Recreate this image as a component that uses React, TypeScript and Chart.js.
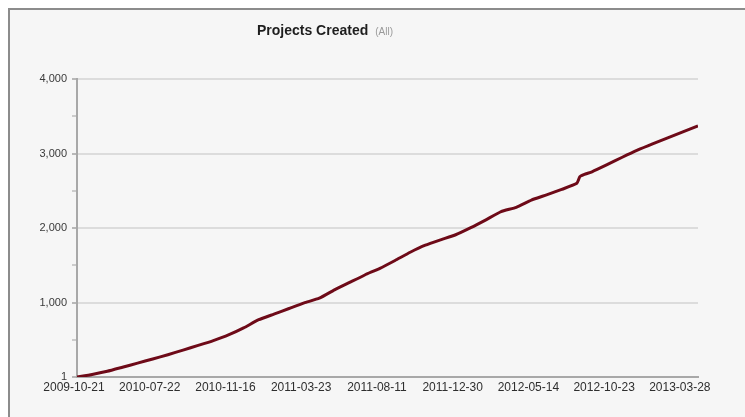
import React, { useEffect, useRef } from "react";
import { Chart, registerables } from "chart.js";

Chart.register(...registerables);

// Category positions (index along the date axis) and cumulative project counts
const pointIndex = [0, 2, 4, 6, 8, 10, 12, 14, 16, 18, 20, 22, 24, 26, 28, 30, 32, 34, 36, 38, 40, 42, 44, 46, 48, 50, 52, 54, 56, 58, 60, 62, 64, 66, 66.4, 67, 68, 70, 72, 74, 76, 78, 80, 82];
const projectsCreated = [1, 35, 78, 132, 187, 243, 300, 362, 425, 490, 565, 660, 770, 845, 920, 995, 1058, 1170, 1270, 1370, 1460, 1565, 1675, 1770, 1842, 1910, 2005, 2110, 2220, 2278, 2375, 2445, 2518, 2600, 2690, 2720, 2755, 2850, 2950, 3045, 3130, 3210, 3290, 3370];

// Date tick labels, one every 10 categories
const dateLabels = ["2009-10-21", "2010-07-22", "2010-11-16", "2011-03-23", "2011-08-11", "2011-12-30", "2012-05-14", "2012-10-23", "2013-03-28"];
const yTicks = [1, 500, 1000, 1500, 2000, 2500, 3000, 3500, 4000];
const yMajor = [1, 1000, 2000, 3000, 4000];

const titleText = "Projects Created";
const subTitleText = "(All)";

const titlePlugin = {
  id: "customTitle",
  afterDraw(chart: any) {
    const ctx = chart.ctx;
    ctx.save();
    ctx.textBaseline = "alphabetic";
    ctx.textAlign = "left";
    ctx.font = "bold 14px 'Liberation Sans', Arial, sans-serif";
    const w1 = ctx.measureText(titleText).width;
    ctx.font = "10px 'Liberation Sans', Arial, sans-serif";
    const w2 = ctx.measureText(subTitleText).width;
    const gap = 7;
    const total = w1 + gap + w2;
    const cx = 325;
    const x0 = cx - total / 2;
    ctx.font = "bold 14px 'Liberation Sans', Arial, sans-serif";
    ctx.fillStyle = "#1e1e1e";
    ctx.fillText(titleText, x0, 35);
    ctx.font = "10px 'Liberation Sans', Arial, sans-serif";
    ctx.fillStyle = "#9a9a9a";
    ctx.fillText(subTitleText, x0 + w1 + gap, 35);
    ctx.restore();
  },
};

export default function App() {
  const ref = useRef<HTMLCanvasElement | null>(null);

  useEffect(() => {
    if (!ref.current) return;
    const data = pointIndex.map((x, i) => ({ x, y: projectsCreated[i] }));
    const chart = new Chart(ref.current, {
      type: "line",
      data: {
        datasets: [
          {
            label: "Projects Created",
            data,
            borderColor: "#6e0a18",
            borderWidth: 3,
            pointRadius: 0,
            tension: 0.15,
            fill: false,
          },
        ],
      },
      options: {
        animation: false,
        responsive: false,
        maintainAspectRatio: false,
        layout: { padding: { left: 0, right: 47, top: 79, bottom: 0 } },
        plugins: {
          legend: { display: false },
          tooltip: { enabled: false },
          title: { display: false },
        },
        scales: {
          x: {
            type: "linear",
            min: 0,
            max: 82,
            afterBuildTicks: (scale: any) => {
              scale.ticks = dateLabels.map((_, i) => ({ value: i * 10 }));
            },
            afterFit: (scale: any) => {
              scale.height = 40;
            },
            grid: { display: false, drawTicks: false },
            border: { display: true, color: "#a8a8a8", width: 2 },
            ticks: {
              autoSkip: false,
              maxRotation: 0,
              minRotation: 0,
              padding: 3,
              labelOffset: -3,
              color: "#2e2e2e",
              font: { family: "'Liberation Sans', Arial, sans-serif", size: 12 },
              callback: (value: any) => dateLabels[Math.round(Number(value) / 10)] ?? "",
            },
          },
          y: {
            type: "linear",
            min: 1,
            max: 4000,
            afterBuildTicks: (scale: any) => {
              scale.ticks = yTicks.map((v) => ({ value: v }));
            },
            afterFit: (scale: any) => {
              scale.width = 77;
            },
            grid: {
              color: (c: any) => (yMajor.includes(c.tick?.value) ? "#dcdcdc" : "rgba(0,0,0,0)"),
              tickColor: (c: any) => (yMajor.includes(c.tick?.value) ? "#b8b8b8" : "#cccccc"),
              tickLength: 5,
              lineWidth: 2,
              drawTicks: true,
            },
            border: { display: true, color: "#a8a8a8", width: 2 },
            ticks: {
              padding: 5,
              color: "#3a3a3a",
              font: { family: "'Liberation Sans', Arial, sans-serif", size: 11 },
              callback: (value: any) =>
                yMajor.includes(Number(value)) ? Number(value).toLocaleString("en-US") : "",
            },
          },
        },
      },
      plugins: [titlePlugin],
    });
    return () => chart.destroy();
  }, []);

  return (
    <div style={{ position: "absolute", left: 0, top: 0, width: 745, height: 417, background: "#ffffff", overflow: "hidden" }}>
      <div
        style={{
          position: "absolute",
          left: 8,
          top: 8,
          width: 740,
          height: 420,
          background: "#f6f6f6",
          borderLeft: "2px solid #8c8c8c",
          borderTop: "2px solid #8c8c8c",
        }}
      />
      <canvas ref={ref} width={745} height={417} style={{ position: "absolute", left: 0, top: 0 }} />
    </div>
  );
}
